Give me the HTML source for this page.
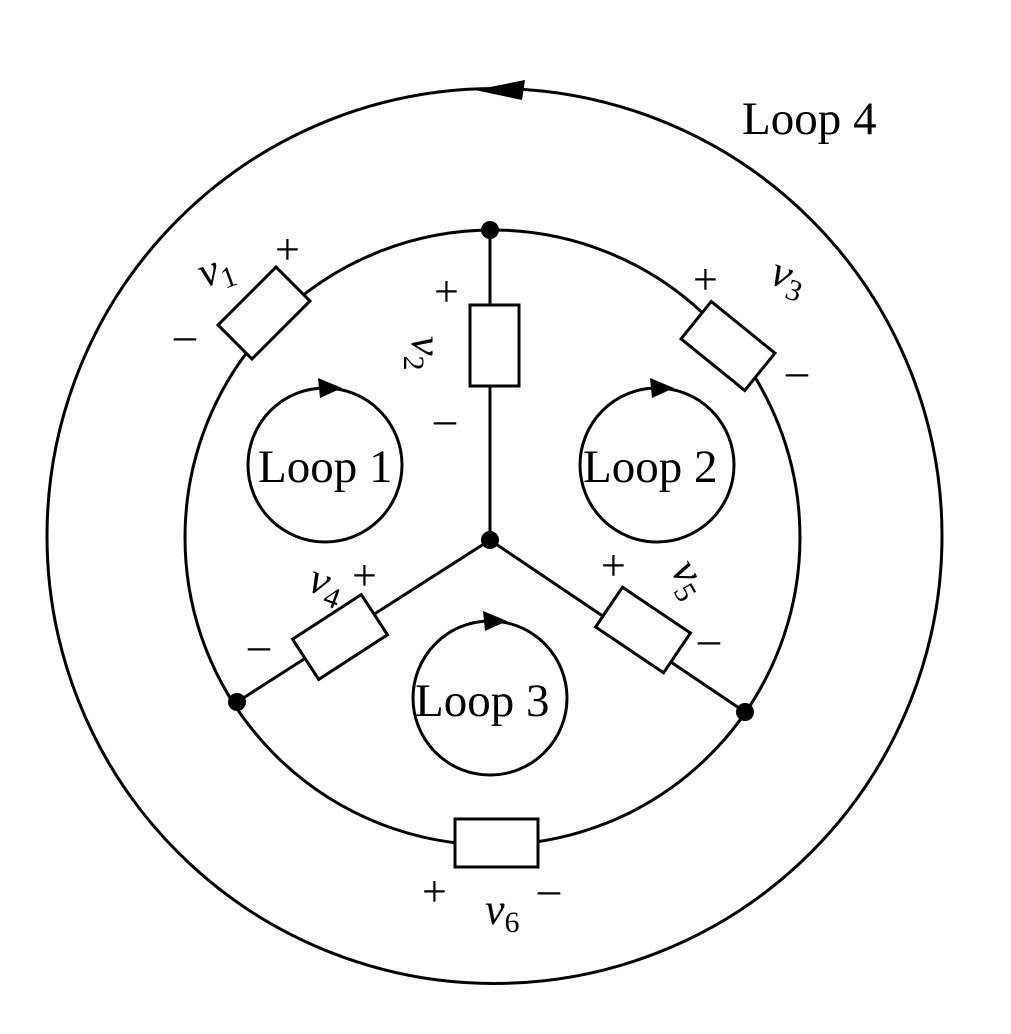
<!DOCTYPE html>
<html><head><style>body{margin:0;background:#fff}</style></head><body>
<svg width="1011" height="1029" viewBox="0 0 1011 1029" xmlns="http://www.w3.org/2000/svg" font-family="Liberation Serif, serif">
<g fill="none" stroke="#000" stroke-width="3">
<circle cx="494.5" cy="536" r="447.5"/>
<circle cx="492.5" cy="537.5" r="307.5"/>
<line x1="490" y1="230" x2="490" y2="540"/>
<line x1="490" y1="540" x2="237" y2="702"/>
<line x1="490" y1="540" x2="745" y2="712"/>
<circle cx="325" cy="465" r="77"/>
<circle cx="657" cy="465" r="77"/>
<circle cx="490" cy="698" r="77"/>
</g>
<g fill="#fff" stroke="#000" stroke-width="3">
<rect x="470" y="305" width="49" height="81"/>
<rect x="455" y="819" width="83" height="48"/>
<rect x="-41" y="-24" width="82" height="48" transform="translate(264,313) rotate(-45)"/>
<rect x="-41" y="-24" width="82" height="48" transform="translate(728,346) rotate(39)"/>
<rect x="-41" y="-24" width="82" height="48" transform="translate(340,637) rotate(-33)"/>
<rect x="-41" y="-24" width="82" height="48" transform="translate(643,630) rotate(34)"/>
</g>
<g fill="#000">
<circle cx="490" cy="230" r="9"/><circle cx="490" cy="540" r="9"/>
<circle cx="237" cy="702" r="9"/><circle cx="745" cy="712" r="9"/>
<polygon points="475,90 525,80 522,100"/>
<polygon points="342,388 318,378 320,398"/>
<polygon points="674,388 650,378 652,398"/>
<polygon points="507,621 483,611 485,631"/>
</g>
<g font-size="47">
<text x="742" y="134">Loop 4</text>
<text x="258" y="482">Loop 1</text>
<text x="583" y="482">Loop 2</text>
<text x="415" y="716">Loop 3</text>
</g>
<g font-size="44">
<text x="275" y="264">+</text><text x="174" y="350">–</text>
<text x="434" y="306">+</text><text x="434" y="434">–</text>
<text x="693" y="294">+</text><text x="786" y="386">–</text>
<text x="352" y="590">+</text><text x="248" y="660">–</text>
<text x="601" y="580">+</text><text x="698" y="654">–</text>
<text x="422" y="906">+</text><text x="538" y="904">–</text>
</g>
<g font-size="44" font-style="italic">
<text transform="translate(204,288) rotate(-20)">v<tspan font-size="30" font-style="normal" dy="8">1</tspan></text>
<text transform="translate(412,336) rotate(90)">v<tspan font-size="30" font-style="normal" dy="8">2</tspan></text>
<text transform="translate(768,283) rotate(20)">v<tspan font-size="30" font-style="normal" dy="8">3</tspan></text>
<text transform="translate(306,590) rotate(20)">v<tspan font-size="30" font-style="normal" dy="8">4</tspan></text>
<text transform="translate(670,570) rotate(60)">v<tspan font-size="30" font-style="normal" dy="8">5</tspan></text>
<text x="485" y="924">v<tspan font-size="30" font-style="normal" dy="8">6</tspan></text>
</g>
</svg>
</body></html>
